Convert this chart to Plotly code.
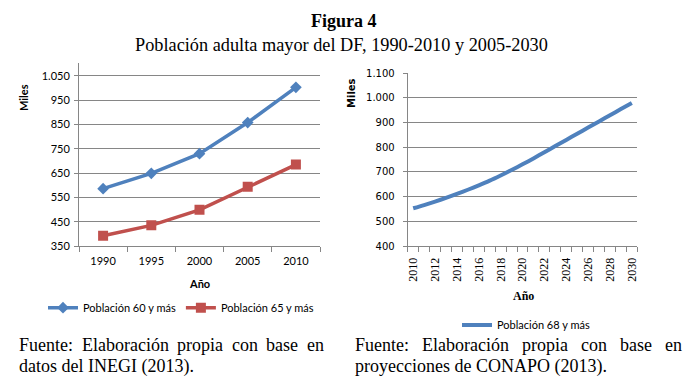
import plotly.graph_objects as go

# ---------------- data ----------------
years_a = [1990, 1995, 2000, 2005, 2010]
pob_60 = [586, 649, 730, 858, 1003]
pob_65 = [392, 435, 499, 594, 685]

years_b = [2010, 2011, 2012, 2013, 2014, 2015, 2016, 2017, 2018, 2019, 2020,
           2021, 2022, 2023, 2024, 2025, 2026, 2027, 2028, 2029, 2030]
pob_68 = [553, 566, 580, 595, 611, 628, 646, 665, 686, 708, 731,
          755, 780, 805, 830, 855, 880, 905, 930, 955, 980]

ticks_a_y = [350, 450, 550, 650, 750, 850, 950, 1050]
ticks_a_y_text = ["350", "450", "550", "650", "750", "850", "950", "1.050"]
ticks_b_y = [400, 500, 600, 700, 800, 900, 1000, 1100]
ticks_b_y_text = ["400", "500", "600", "700", "800", "900", "1.000", "1.100"]
ticks_b_x = years_b[::2]

title_main = "Figura 4"
title_sub = "Población adulta mayor del DF, 1990-2010 y 2005-2030"
foot_left_1 = "Fuente: Elaboración propia con base en"
foot_left_2 = "datos del INEGI (2013)."
foot_right_1 = "Fuente: Elaboración propia con base en"
foot_right_2 = "proyecciones de CONAPO (2013)."

# ---------------- layout helpers ----------------
W, H = 690, 392
def px_x(x):
    return x / W
def px_y(y):
    return 1 - y / H

GRID = "#868686"
BLUE = "#4F81BD"
RED = "#C0504D"
SANS = "Lato, 'Open Sans', sans-serif"
SERIF = "'Liberation Serif', 'Times New Roman', serif"
DJV = "'DejaVu Sans', Verdana, sans-serif"

fig = go.Figure()

fig.add_trace(go.Scatter(
    x=years_a, y=pob_60, name="Población 60 y más", mode="lines+markers",
    line=dict(color=BLUE, width=3.5), marker=dict(symbol="diamond", size=9, color=BLUE),
    xaxis="x", yaxis="y", legend="legend"))
fig.add_trace(go.Scatter(
    x=years_a, y=pob_65, name="Población 65 y más", mode="lines+markers",
    line=dict(color=RED, width=3.5), marker=dict(symbol="square", size=10, color=RED),
    xaxis="x", yaxis="y", legend="legend"))
fig.add_trace(go.Scatter(
    x=years_b, y=pob_68, name="Población 68 y más", mode="lines",
    line=dict(color=BLUE, width=4, shape="spline", smoothing=0.8),
    xaxis="x2", yaxis="y2", legend="legend2"))

axis_common = dict(showline=True, linecolor=GRID, linewidth=1, zeroline=False,
                   fixedrange=True, automargin=False)

fig.update_layout(
    width=W, height=H,
    margin=dict(l=0, r=0, t=0, b=0, pad=0, autoexpand=False),
    paper_bgcolor="white", plot_bgcolor="white",
    xaxis=dict(domain=[px_x(79), px_x(320)], range=[1987.5, 2012.5],
               tickmode="array", tickvals=years_a, ticks="", showgrid=False,
               ticklabelstandoff=5,
               tickfont=dict(family=SANS, size=11, color="black"),
               minor=dict(ticks="outside", tick0=1987.5, dtick=5, ticklen=5,
                          tickcolor=GRID, showgrid=False),
               anchor="y", **axis_common),
    yaxis=dict(domain=[px_y(246), px_y(63.3)], range=[350, 1102],
               tickmode="array", tickvals=ticks_a_y, ticktext=ticks_a_y_text,
               ticks="outside", ticklen=4, tickcolor=GRID,
               ticklabelstandoff=2,
               showgrid=True, gridcolor=GRID, gridwidth=1,
               tickfont=dict(family=SANS, size=11, color="black"),
               anchor="x", **axis_common),
    xaxis2=dict(domain=[px_x(407.7), px_x(637.3)], range=[2009.5, 2030.5],
                tickmode="array", tickvals=ticks_b_x, ticks="", showgrid=False,
                tickangle=-90, ticklabelstandoff=6,
                tickfont=dict(family=SERIF, size=12, color="black"),
                minor=dict(ticks="outside", tick0=2009.5, dtick=1, ticklen=5,
                           tickcolor=GRID, showgrid=False),
                anchor="y2", **axis_common),
    yaxis2=dict(domain=[px_y(246), px_y(73.3)], range=[400, 1100],
                tickmode="array", tickvals=ticks_b_y, ticktext=ticks_b_y_text,
                ticks="outside", ticklen=4, tickcolor=GRID,
                ticklabelstandoff=6,
                showgrid=True, gridcolor=GRID, gridwidth=1,
                tickfont=dict(family=DJV, size=10, color="black"),
                anchor="x2", **axis_common),
    legend=dict(orientation="h", x=px_x(43), y=px_y(307.7), xanchor="left", yanchor="middle",
                font=dict(family=SANS, size=11, color="black"), bgcolor="rgba(0,0,0,0)",
                itemwidth=30),
    legend2=dict(orientation="h", x=px_x(457), y=px_y(325), xanchor="left", yanchor="middle",
                 font=dict(family=SANS, size=11, color="black"), bgcolor="rgba(0,0,0,0)",
                 itemwidth=30),
    showlegend=True,
)

ann = []
def text(x, y, s, family, size, bold=False, angle=0, xanchor="center"):
    ann.append(dict(x=px_x(x), y=px_y(y), xref="paper", yref="paper",
                    text=("<b>%s</b>" % s) if bold else s, showarrow=False,
                    textangle=angle, xanchor=xanchor, yanchor="middle",
                    font=dict(family=family, size=size, color="black")))

text(344, 21, title_main, SERIF, 18, bold=True)
text(341.5, 45, title_sub, SERIF, 18.3)

text(23, 98, "Miles", SANS, 11, bold=True, angle=-90)
text(199, 283, "Año", SANS, 11, bold=True)
text(351, 93, "Miles", DJV, 10, bold=True, angle=-90)
text(523, 296, "Año", SERIF, 12, bold=True)

# justified first lines of the footers (Times-metric advance widths, em units)
TW = {"F": .556, "u": .5, "e": .444, "n": .5, "t": .278, ":": .278, "E": .611,
      "l": .278, "a": .444, "b": .5, "o": .5, "r": .333, "c": .444, "i": .278,
      "ó": .5, "p": .5, "s": .389}
FS = 18
def justify(line, x0, x1, y):
    words = line.split(" ")
    widths = [sum(TW.get(ch, .5) for ch in w) * FS for w in words]
    gap = (x1 - x0 - sum(widths)) / (len(words) - 1)
    x = x0
    for w, wd in zip(words, widths):
        text(x, y, w, SERIF, FS, xanchor="left")
        x += wd + gap

justify(foot_left_1, 17, 322, 345)
justify(foot_right_1, 353, 680, 345)
text(17, 366, foot_left_2, SERIF, FS, xanchor="left")
text(353, 366, foot_right_2, SERIF, FS, xanchor="left")

fig.update_layout(annotations=ann)

fig.write_html("out.html", config={"displayModeBar": False},
               post_script="document.body.style.margin='0';document.body.style.padding='0';")
